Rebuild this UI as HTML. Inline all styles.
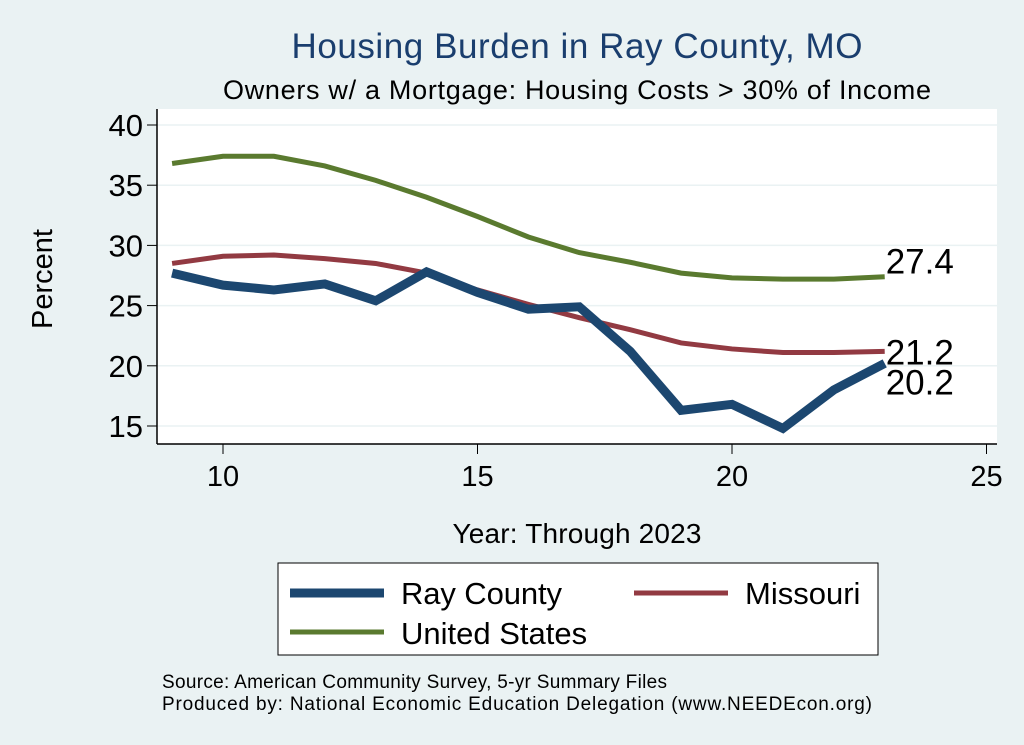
<!DOCTYPE html>
<html><head><meta charset="utf-8"><style>
body{margin:0;background:#eaf2f3;}
svg{display:block;font-family:"Liberation Sans",sans-serif;}
</style></head><body>
<svg id="chart" width="1024" height="745">
<rect x="0" y="0" width="1024" height="745" fill="#eaf2f3"/>
<text x="577" y="58" font-size="35" fill="#1a3e6e" text-anchor="middle" textLength="571">Housing Burden in Ray County, MO</text>
<text x="577" y="99" font-size="27" fill="#000" text-anchor="middle" textLength="708">Owners w/ a Mortgage: Housing Costs &gt; 30% of Income</text>
<rect x="157" y="109" width="840" height="335" fill="#fff"/>
<g id="grid"></g><g id="axes"></g><g id="series"></g>
<text x="52" y="279" font-size="29" text-anchor="middle" transform="rotate(-90 52 279)">Percent</text>
<text x="577" y="543" font-size="28" text-anchor="middle" textLength="249">Year: Through 2023</text>
<g>
<rect x="278" y="563" width="600" height="92" fill="#fff" stroke="#000" stroke-width="1"/>
<line x1="290" y1="593" x2="384" y2="593" stroke="#1c4770" stroke-width="9"/>
<text x="401" y="604" font-size="31" textLength="161">Ray County</text>
<line x1="634" y1="593" x2="728" y2="593" stroke="#923a42" stroke-width="5"/>
<text x="745" y="604" font-size="31">Missouri</text>
<line x1="290" y1="632" x2="384" y2="632" stroke="#5a7a2f" stroke-width="5"/>
<text x="401" y="644" font-size="31">United States</text>
</g>
<text x="162" y="688" font-size="19" textLength="505">Source: American Community Survey, 5-yr Summary Files</text>
<text x="162" y="710" font-size="19" textLength="710">Produced by: National Economic Education Delegation (www.NEEDEcon.org)</text>
</svg>
<script>
const years=[9,10,11,12,13,14,15,16,17,18,19,20,21,22,23];
const rayCounty=[27.7,26.7,26.3,26.8,25.4,27.8,26.1,24.7,24.9,21.2,16.3,16.8,14.8,18.0,20.2];
const missouri=[28.5,29.1,29.2,28.9,28.5,27.7,26.3,25.1,24.0,23.0,21.9,21.4,21.1,21.1,21.2];
const unitedStates=[36.8,37.4,37.4,36.6,35.4,34.0,32.4,30.7,29.4,28.6,27.7,27.3,27.2,27.2,27.4];
const xTicks=[10,15,20,25];
const yTicks=[15,20,25,30,35,40];
const NS="http://www.w3.org/2000/svg";
const X=v=>223+(v-10)*50.9;
const Y=v=>426-(v-15)*12.04;
function mk(tag,attrs,parent){const e=document.createElementNS(NS,tag);for(const k in attrs)e.setAttribute(k,attrs[k]);parent.appendChild(e);return e;}
const grid=document.getElementById('grid'),axes=document.getElementById('axes'),ser=document.getElementById('series');
yTicks.forEach(t=>{
 const g=mk('line',{x1:157,x2:997,y1:Y(t),y2:Y(t),stroke:'#eaf2f3','stroke-width':1.5},grid);
 
 
 const tk=mk('line',{x1:147,x2:157,y1:Y(t),y2:Y(t),stroke:'#000'},axes);
 
 
 const tx=mk('text',{x:143,y:Y(t)+11,'font-size':31,'text-anchor':'end'},axes);
 tx.textContent=t;
 
 
});
xTicks.forEach(t=>{
 const tk=mk('line',{x1:X(t),x2:X(t),y1:444,y2:454,stroke:'#000'},axes);
 
 
 const tx=mk('text',{x:X(t),y:486,'font-size':29,'text-anchor':'middle'},axes);
 tx.textContent=t;
 
 
});
const ya=mk('line',{x1:157,x2:157,y1:109,y2:444,stroke:'#000','stroke-width':1.5},axes);


const xa=mk('line',{x1:157,x2:997,y1:444,y2:444,stroke:'#000','stroke-width':1.5},axes);


function line(vals,color,w,name,labelDy){
 const p=mk('polyline',{points:vals.map((v,i)=>X(years[i])+','+Y(v)).join(' '),fill:'none',stroke:color,'stroke-width':w,'stroke-linejoin':'miter'},ser);
 
 
 const last=vals[vals.length-1];
 const t=mk('text',{x:X(years[years.length-1])+1,y:Y(last)+labelDy,'font-size':35},ser);
 t.textContent=last.toFixed(1);
 
 
}
line(unitedStates,'#5a7a2f',5,'united-states',-3);
line(missouri,'#923a42',5,'missouri',13);
line(rayCounty,'#1c4770',9,'ray-county',31);
</script>
</body></html>
